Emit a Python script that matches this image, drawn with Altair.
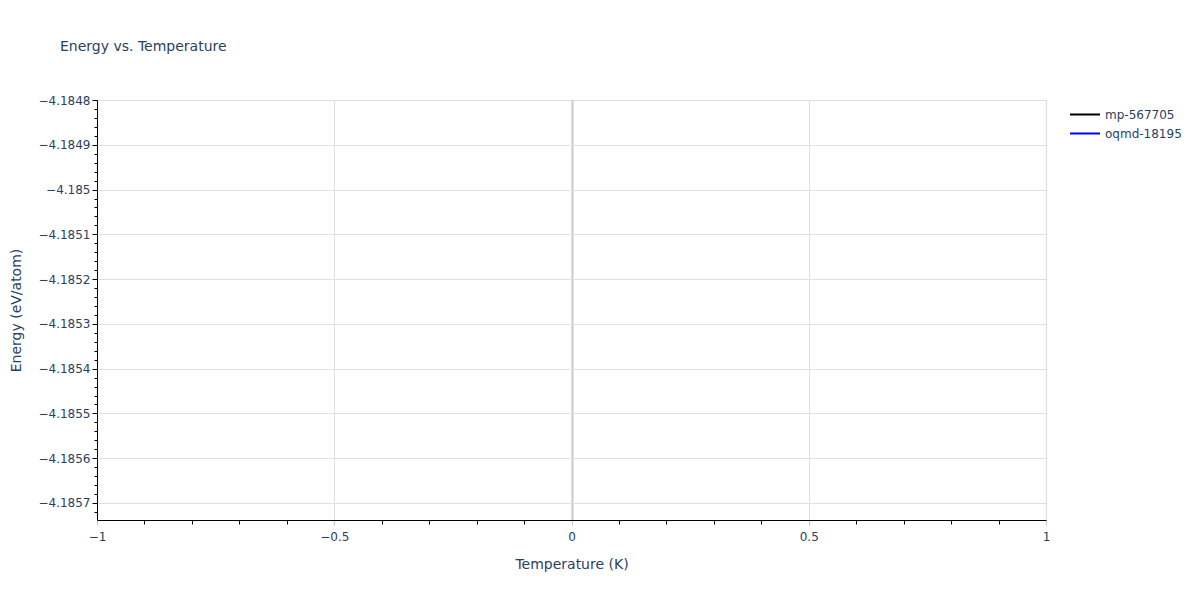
import altair as alt
import pandas as pd

# ---- data (each series holds a single point, so no line segment is visible) ----
series = ["mp-567705", "oqmd-18195"]
series_colors = ["black", "blue"]
temperature = [0.0, 0.0]
energy = [-4.18527, -4.18527]

x_major = [-1, -0.5, 0, 0.5, 1]
x_minor = [-0.9, -0.8, -0.7, -0.6, -0.4, -0.3, -0.2, -0.1,
           0.1, 0.2, 0.3, 0.4, 0.6, 0.7, 0.8, 0.9]
y_major = [-4.1848, -4.1849, -4.185, -4.1851, -4.1852, -4.1853,
           -4.1854, -4.1855, -4.1856, -4.1857]
y_minor = [round(-4.1848 - 0.00002 * i, 6) for i in range(1, 47) if i % 5 != 0]

x_domain = [-1, 1]
y_domain = [-4.185738, -4.1848]

df = pd.DataFrame({"Temperature": temperature, "Energy": energy, "series": series})

FONT = "DejaVu Sans"
TXT = "#2a3f5f"
GRID = "#e0e0e0"
ZERO = "#c8c8c8"

xscale = alt.Scale(domain=x_domain, nice=False, zero=False)
yscale = alt.Scale(domain=y_domain, nice=False, zero=False)

x_axis = alt.Axis(
    values=x_major, format="~g", title="Temperature (K)", orient="bottom",
    grid=True,
    gridColor={"condition": {"test": "datum.value === 0", "value": ZERO}, "value": GRID},
    gridWidth={"condition": {"test": "datum.value === 0", "value": 2}, "value": 1},
    gridOpacity={"condition": {"test": "abs(datum.value) === 1", "value": 0}, "value": 1},
    domain=True, domainColor="black", domainWidth=1,
    ticks=True, tickColor=ZERO, tickSize=5, tickWidth=1,
    labelFontSize=12, labelColor=TXT, labelFont=FONT, labelPadding=6,
    labelFlush=False, labelOverlap=False,
    titleFontSize=14, titleColor=TXT, titleFont=FONT, titleFontWeight="normal",
    titlePadding=15,
)
y_axis = alt.Axis(
    values=y_major, format=".4~f", title="Energy (eV/atom)", orient="left",
    grid=True, gridColor=GRID, gridWidth=1,
    gridOpacity={"condition": {"test": "abs(datum.value + 4.1848) < 1e-9", "value": 0}, "value": 1},
    domain=True, domainColor="black", domainWidth=1,
    ticks=True, tickColor="black", tickSize=5, tickWidth=1,
    labelFontSize=12, labelColor=TXT, labelFont=FONT, labelPadding=2,
    labelFlush=False, labelOverlap=False,
    titleFontSize=14, titleColor=TXT, titleFont=FONT, titleFontWeight="normal",
    titlePadding=14,
)
x_minor_axis = alt.Axis(
    values=x_minor, labels=False, grid=False, domain=False, orient="bottom",
    ticks=True, tickColor="black", tickSize=4, tickWidth=1, title=None,
)
y_minor_axis = alt.Axis(
    values=y_minor, labels=False, grid=False, domain=False, orient="left",
    ticks=True, tickColor="black", tickSize=3, tickWidth=1, title=None,
)

base = alt.Chart(df)

minor = base.mark_line(opacity=0).encode(
    x=alt.X("Temperature:Q", scale=xscale, axis=x_minor_axis),
    y=alt.Y("Energy:Q", scale=yscale, axis=y_minor_axis),
    detail="series:N",
)

lines = base.mark_line(strokeWidth=2, clip=True).encode(
    x=alt.X("Temperature:Q", scale=xscale, axis=x_axis),
    y=alt.Y("Energy:Q", scale=yscale, axis=y_axis),
    color=alt.Color(
        "series:N",
        scale=alt.Scale(domain=series, range=series_colors),
        legend=alt.Legend(
            title=None, orient="none", legendX=972, legendY=5,
            symbolType="stroke", symbolSize=900, symbolStrokeWidth=2,
            labelFontSize=12, labelColor=TXT, labelFont=FONT, labelOffset=4,
            clipHeight=19, rowPadding=0, padding=0,
        ),
    ),
)

chart = (
    alt.layer(lines, minor)
    .resolve_axis(x="independent", y="independent")
    .properties(
        width=949,
        height=420,
        autosize=alt.AutoSizeParams(type="none"),
        padding={"left": 89, "top": 92, "right": 146, "bottom": 70},
        title=alt.TitleParams(
            "Energy vs. Temperature", anchor="start", frame="group",
            dx=-37, offset=29, baseline="alphabetic",
            fontSize=14, font=FONT, color=TXT, fontWeight="normal",
        ),
    )
    .configure_view(stroke=None)
    .configure(background="white", font=FONT)
)

chart.save("out.html", embed_options={"renderer": "svg", "actions": False})
